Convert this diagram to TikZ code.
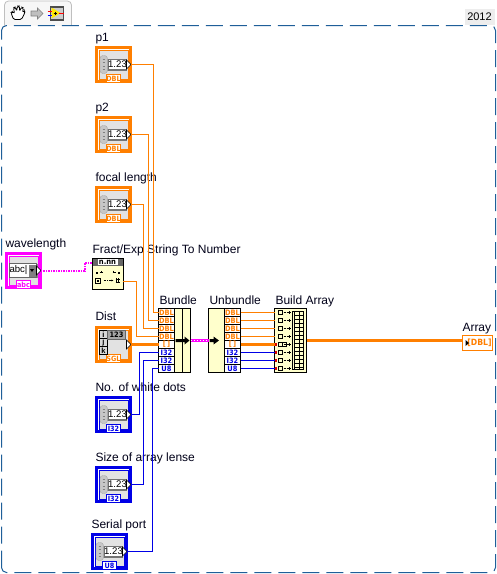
\documentclass[tikz,border=0pt]{standalone}
\usepackage{fontspec}
\usetikzlibrary{arrows.meta}
\setmainfont{Liberation Sans}
\newfontfamily\termfont{DejaVu Sans Condensed}[BoldFont={DejaVu Sans Condensed Bold}]
\definecolor{dblc}{HTML}{FF7F00}
\definecolor{intc}{HTML}{0000E6}
\definecolor{strc}{HTML}{FF00FF}
\definecolor{framec}{HTML}{1F5F99}
\definecolor{yel}{HTML}{FFFFCC}
\definecolor{panel}{HTML}{E2E2E2}
\tikzset{
  x=1pt,y=-1pt,
  lbl/.style={anchor=base west,inner sep=0,outer sep=0,font=\fontsize{12}{14}\selectfont,text=black!90!blue},
  ctlbox/.style={draw=#1,line width=2.7pt,fill=white,minimum width=34.5pt,minimum height=34.5pt,inner sep=0,outer sep=0},
  fnbox/.style={draw=black,line width=1pt,fill=yel,inner sep=0,outer sep=0},
  term/.style={draw=black,line width=.9pt,fill=white,minimum width=16pt,minimum height=8pt,inner sep=0,outer sep=0,text=#1,font=\termfont\bfseries\fontsize{7.4}{7}\selectfont},
  wire/.style={draw=#1,line width=1pt},
  thickwire/.style={draw=#1,line width=2.2pt},
  strwire/.style={draw=strc,line width=2pt,dash pattern=on 1.5pt off 1pt},
}
% inner part common to every control: ring, panel and badge
\newcommand\ctlbase[5]{% name, cx, cy, colour, type
  \node[ctlbox=#4] (#1) at (#2,#3) {};
  \begin{scope}[shift={(#2,#3)}]
    \draw[#4,line width=1pt,fill=panel] (-14.5,-14.5) rectangle (14.5,14.5);
    \node[draw=#4,line width=.9pt,fill=white,text=#4,minimum width=14pt,minimum height=7.5pt,inner sep=0,font=\termfont\bfseries\fontsize{7.2}{7}\selectfont] at (0,14) {#5};
  \end{scope}}
\newcommand\numctl[5]{% numeric control
  \ctlbase{#1}{#2}{#3}{#4}{#5}
  \begin{scope}[shift={(#2,#3)}]
    \fill[black!55] (-7,-6) rectangle (13,6);
    \draw[black!35,fill=black!22,rounded corners=3pt] (-13.5,-9) rectangle (-6,9);
    \draw[black!50] (-11,-5)--(-9,-5) (-11,-2)--(-9,-2) (-11,2)--(-9,2) (-11,5)--(-9,5);
    \fill[white] (-5,-4.5) rectangle (13,4.5);
    \node[inner sep=0,font=\fontsize{9.6}{10}\selectfont] at (4,0) {1.23};
    \draw[black,fill=white,line width=.6pt] (13,-4.5)--(17.5,0)--(13,4.5)--cycle;
  \end{scope}}
\begin{document}
\begin{tikzpicture}
\useasboundingbox (0,0) rectangle (497,574);
\fill[white] (0,0) rectangle (497,574);
\begin{scope}[shift={(0.5,0.5)}]
% toolbar tab
\draw[black!25,fill=black!3,rounded corners=4pt,line width=.8pt] (4,25) -- (4,0.5) -- (71,0.5) -- (71,25);
% hand
\draw[black,line width=.8pt,fill=white,rounded corners=1.5pt] (13,19) -- (10.5,12) -- (12,11) -- (14,13) -- (13,7) -- (15,6.5) -- (16,11) -- (17,5.5) -- (19,5.5) -- (19,11) -- (21,6.5) -- (23,7.5) -- (22,12) -- (24,10) -- (24.5,12) -- (21,19) -- cycle;
% arrow
\draw[black!50,fill=black!25,line width=.7pt] (30.5,10.5) -- (37,10.5) -- (37,7.5) -- (42.5,13) -- (37,18.5) -- (37,15.5) -- (30.5,15.5) -- cycle;
% run icon
\fill[black!70] (49,5) rectangle (63,20);
\fill[black!20] (50,7) rectangle (62,18);
\fill[yellow!90!orange] (51,7) -- (60,12.5) -- (51,18) -- cycle;
\draw[red,line width=.7pt] (47,11) -- (51,11) (58,12.5) -- (63,12.5);
\draw[blue,line width=.7pt] (47,15) -- (51,15);
\draw[black,line width=.7pt] (53,12.5) -- (56,12.5) (54.5,11) -- (54.5,14);
% frame
\draw[framec,line width=1pt,rounded corners=5pt,dash pattern=on 17pt off 7pt] (1,572) -- (1,25) -- (495,25) -- (495,572) -- cycle;
% version tab
\node[fill=black!7,inner sep=0,minimum width=30pt,minimum height=16pt,font=\fontsize{11}{12}\selectfont] (ver) at (479,16.5) {2012};

% labels
\node[lbl] (l1) at (95,41) {p1};
\node[lbl] (l2) at (95,111) {p2};
\node[lbl] (l3) at (95,181) {focal length};
\node[lbl] (l4) at (5,247) {wavelength};
\node[lbl] (l5) at (92,253) {Fract/Exp String To Number};
\node[lbl] (l6) at (95,320) {Dist};
\node[lbl] (l7) at (95,391) {No. of white dots};
\node[lbl] (l8) at (95,461) {Size of array lense};
\node[lbl] (l9) at (91,528) {Serial port};
\node[lbl] (l10) at (159,304) {Bundle};
\node[lbl] (l11) at (209,304) {Unbundle};
\node[lbl] (l12) at (275,304) {Build Array};
\node[lbl] (l13) at (462,331) {Array};

% numeric controls
\numctl{p1}{113}{64}{dblc}{DBL}
\numctl{p2}{113}{134}{dblc}{DBL}
\numctl{focal}{113}{204}{dblc}{DBL}
\numctl{white}{113}{414}{intc}{I32}
\numctl{lens}{113}{484}{intc}{I32}
\numctl{serial}{109}{551}{intc}{U8}

% wavelength control
\ctlbase{wave}{23}{270}{strc}{abc}
\begin{scope}[shift={(23,270)}]
  \fill[black!45] (-14,-7) rectangle (14,7);
  \draw[black!60,fill=white] (-14,-7) rectangle (13,7);
  \node[inner sep=0,font=\fontsize{9.6}{10}\selectfont] at (-5,0) {abc|};
  \fill[black!50] (5,-6) rectangle (12,6);
  \fill[black] (6.5,-1.5) -- (10.5,-1.5) -- (8.5,1.5) -- cycle;
  \draw[black,fill=white,line width=.6pt] (13,-4.5)--(17.5,0)--(13,4.5)--cycle;
\end{scope}

% Dist control
\ctlbase{dist}{113}{344}{dblc}{SGL}
\begin{scope}[shift={(113,344)}]
  \foreach \yy/\tt in {-10/i,-2/j,6/k}{
    \node[draw=black,line width=.7pt,fill=black!15,minimum size=8pt,inner sep=0,font=\fontsize{7.5}{8}\selectfont\bfseries] at (-10,\yy) {\tt};}
  \node[draw=black!60,fill=black!35,minimum width=18pt,minimum height=9pt,inner sep=0,font=\termfont\bfseries\fontsize{7.4}{8}\selectfont] at (3,-10) {123};
  \draw[black,fill=white,line width=.6pt] (13,-4.5)--(17.5,0)--(13,4.5)--cycle;
\end{scope}

% Fract/Exp function
\node[fnbox,minimum width=31pt,minimum height=31pt] (fract) at (107,273) {};
\begin{scope}[shift={(107,273)}]
  \fill[black!60] (-15,-15) rectangle (15,-8);
  \node[fill=white,inner sep=0,minimum width=20pt,minimum height=6.5pt,font=\termfont\bfseries\fontsize{7.6}{7}\selectfont] at (0,-11.5) {n.nn};
  \fill (-12,-2) rectangle (-10,0);
  \draw[line width=.7pt] (-8,-1) -- (-5,-1) (-6.5,-3) -- (-6.5,-1);
  \fill (10,-2) rectangle (12,0);
  \draw[line width=.7pt] (5,-1) -- (8,-1) (6,-3) -- (6,-1);
  \draw[line width=.8pt] (-12,4.5) rectangle (-7,9.5);
  \fill (-10.5,6) rectangle (-8.5,8);
  \draw[line width=.7pt,densely dotted] (-4,7) -- (4,7);
  \draw[-{Latex[length=2pt,width=2pt]},line width=.5pt] (3,7) -- (6,7);
  \draw[line width=.7pt] (8,5.5) -- (12,5.5) (8,8.5) -- (12,8.5) (9.3,4.5) -- (9.3,9.5) (10.8,4.5) -- (10.8,9.5);
\end{scope}

% Bundle
\node[fnbox,minimum width=32pt,minimum height=64pt] (bundle) at (174,340) {};
\draw[line width=.8pt] (182,308) -- (182,372);
\foreach \n/\yy/\tx/\cc in {1/312/DBL/dblc,2/320/DBL/dblc,3/328/DBL/dblc,4/336/DBL/dblc,5/344/{[\,]}/dblc,6/352/I32/intc,7/360/I32/intc,8/368/U8/intc}{
  \node[term=\cc] (b\n) at (166,\yy) {\tx};
}
% Unbundle
\node[fnbox,minimum width=32pt,minimum height=64pt] (unbundle) at (224,340) {};
\foreach \n/\yy/\tx/\cc in {1/312/DBL/dblc,2/320/DBL/dblc,3/328/DBL/dblc,4/336/DBL/dblc,5/344/{[\,]}/dblc,6/352/I32/intc,7/360/I32/intc,8/368/U8/intc}{
  \node[term=\cc] (u\n) at (232,\yy) {\tx};
}
% Build Array
\node[fnbox,minimum width=32pt,minimum height=64pt] (build) at (290,340) {};
\foreach \n/\yy in {1/312,2/320,3/328,4/336,5/344,6/352,7/360,8/368}{
  \coordinate (a\n) at (274,\yy);
  \draw[black,line width=.7pt] (278,\yy-2) rectangle (282,\yy+2);
  \draw[black,line width=.6pt,densely dotted] (283,\yy) -- (287,\yy);
  \draw[black,line width=.6pt] (287.5,\yy) -- (290,\yy) (288.7,\yy-1.3) -- (288.7,\yy+1.3);
}
\draw[black,line width=.7pt] (282,342) rectangle (286,346);
\draw[black,line width=.8pt] (293.5,311) -- (291.5,311) -- (291.5,369) -- (293.5,369);
\draw[black,line width=.7pt] (294,311) rectangle (303,369);
\draw[black,line width=.7pt] (298.5,311) -- (298.5,369);
\foreach \yy in {315,319,323,327,331,335,339,343,347,351,355,359,363,367}{
  \draw[black,line width=.5pt] (294,\yy) -- (303,\yy);
}

% wires
\draw[strwire] (wave.east) -- ++(44,0) |- ([yshift=11pt]fract.west);
\draw[wire=dblc] (p1.east) -- ++(22.25,0) |- (b1.west);
\draw[wire=dblc] (p2.east) -- ++(17.25,0) |- (b2.west);
\draw[wire=dblc] (focal.east) -- ++(12.25,0) |- (b3.west);
\draw[wire=dblc] ([yshift=-8pt]fract.east) -- ++(13.5,0) |- (b4.west);
\draw[thickwire=dblc] (dist.east) -- (b5.west);
\draw[wire=intc] (white.east) -- ++(8.25,0) |- (b6.west);
\draw[wire=intc] (lens.east) -- ++(12.25,0) |- (b7.west);
\draw[wire=intc] (serial.east) -- ++(25.25,0) |- (b8.west);
\foreach \n in {1,2,3,4}{ \draw[wire=dblc] (u\n.east) -- (a\n); }
\draw[thickwire=dblc] (u5.east) -- (a5);
\foreach \n in {6,7,8}{ \draw[wire=intc] (u\n.east) -- (a\n); }
% coercion dots
\foreach \n in {5,6,7,8}{ \fill[red!85!black] (a\n)+(0,-1.8) rectangle +(2,1.8); }
% bundle to unbundle
\draw[draw=strc,line width=3pt] (190,340) -- (208,340);
\draw[draw=white,line width=1pt,dash pattern=on 1.5pt off 1.5pt] (190,340) -- (208,340);
\fill[black] (175,338.5) -- (184,338.5) -- (184,336) -- (189,340) -- (184,344) -- (184,341.5) -- (175,341.5) -- cycle;
\fill[black] (209,338.5) -- (213,338.5) -- (213,336) -- (218.5,340) -- (213,344) -- (213,341.5) -- (209,341.5) -- cycle;

% Array indicator
\node[draw=dblc,line width=1pt,fill=white,minimum width=30pt,minimum height=15pt,inner sep=0,outer sep=0] (array) at (477,342.5) {};
\node[inner sep=0,text=dblc,font=\termfont\bfseries\fontsize{8.6}{9}\selectfont] (arrtxt) at (479,342.5) {[DBL]};
\fill[black] (465,339.5) -- (468.5,342.5) -- (465,345.5) -- cycle;
\draw[thickwire=dblc] (build.east) -- (462,340);
\end{scope}
\end{tikzpicture}
\end{document}
